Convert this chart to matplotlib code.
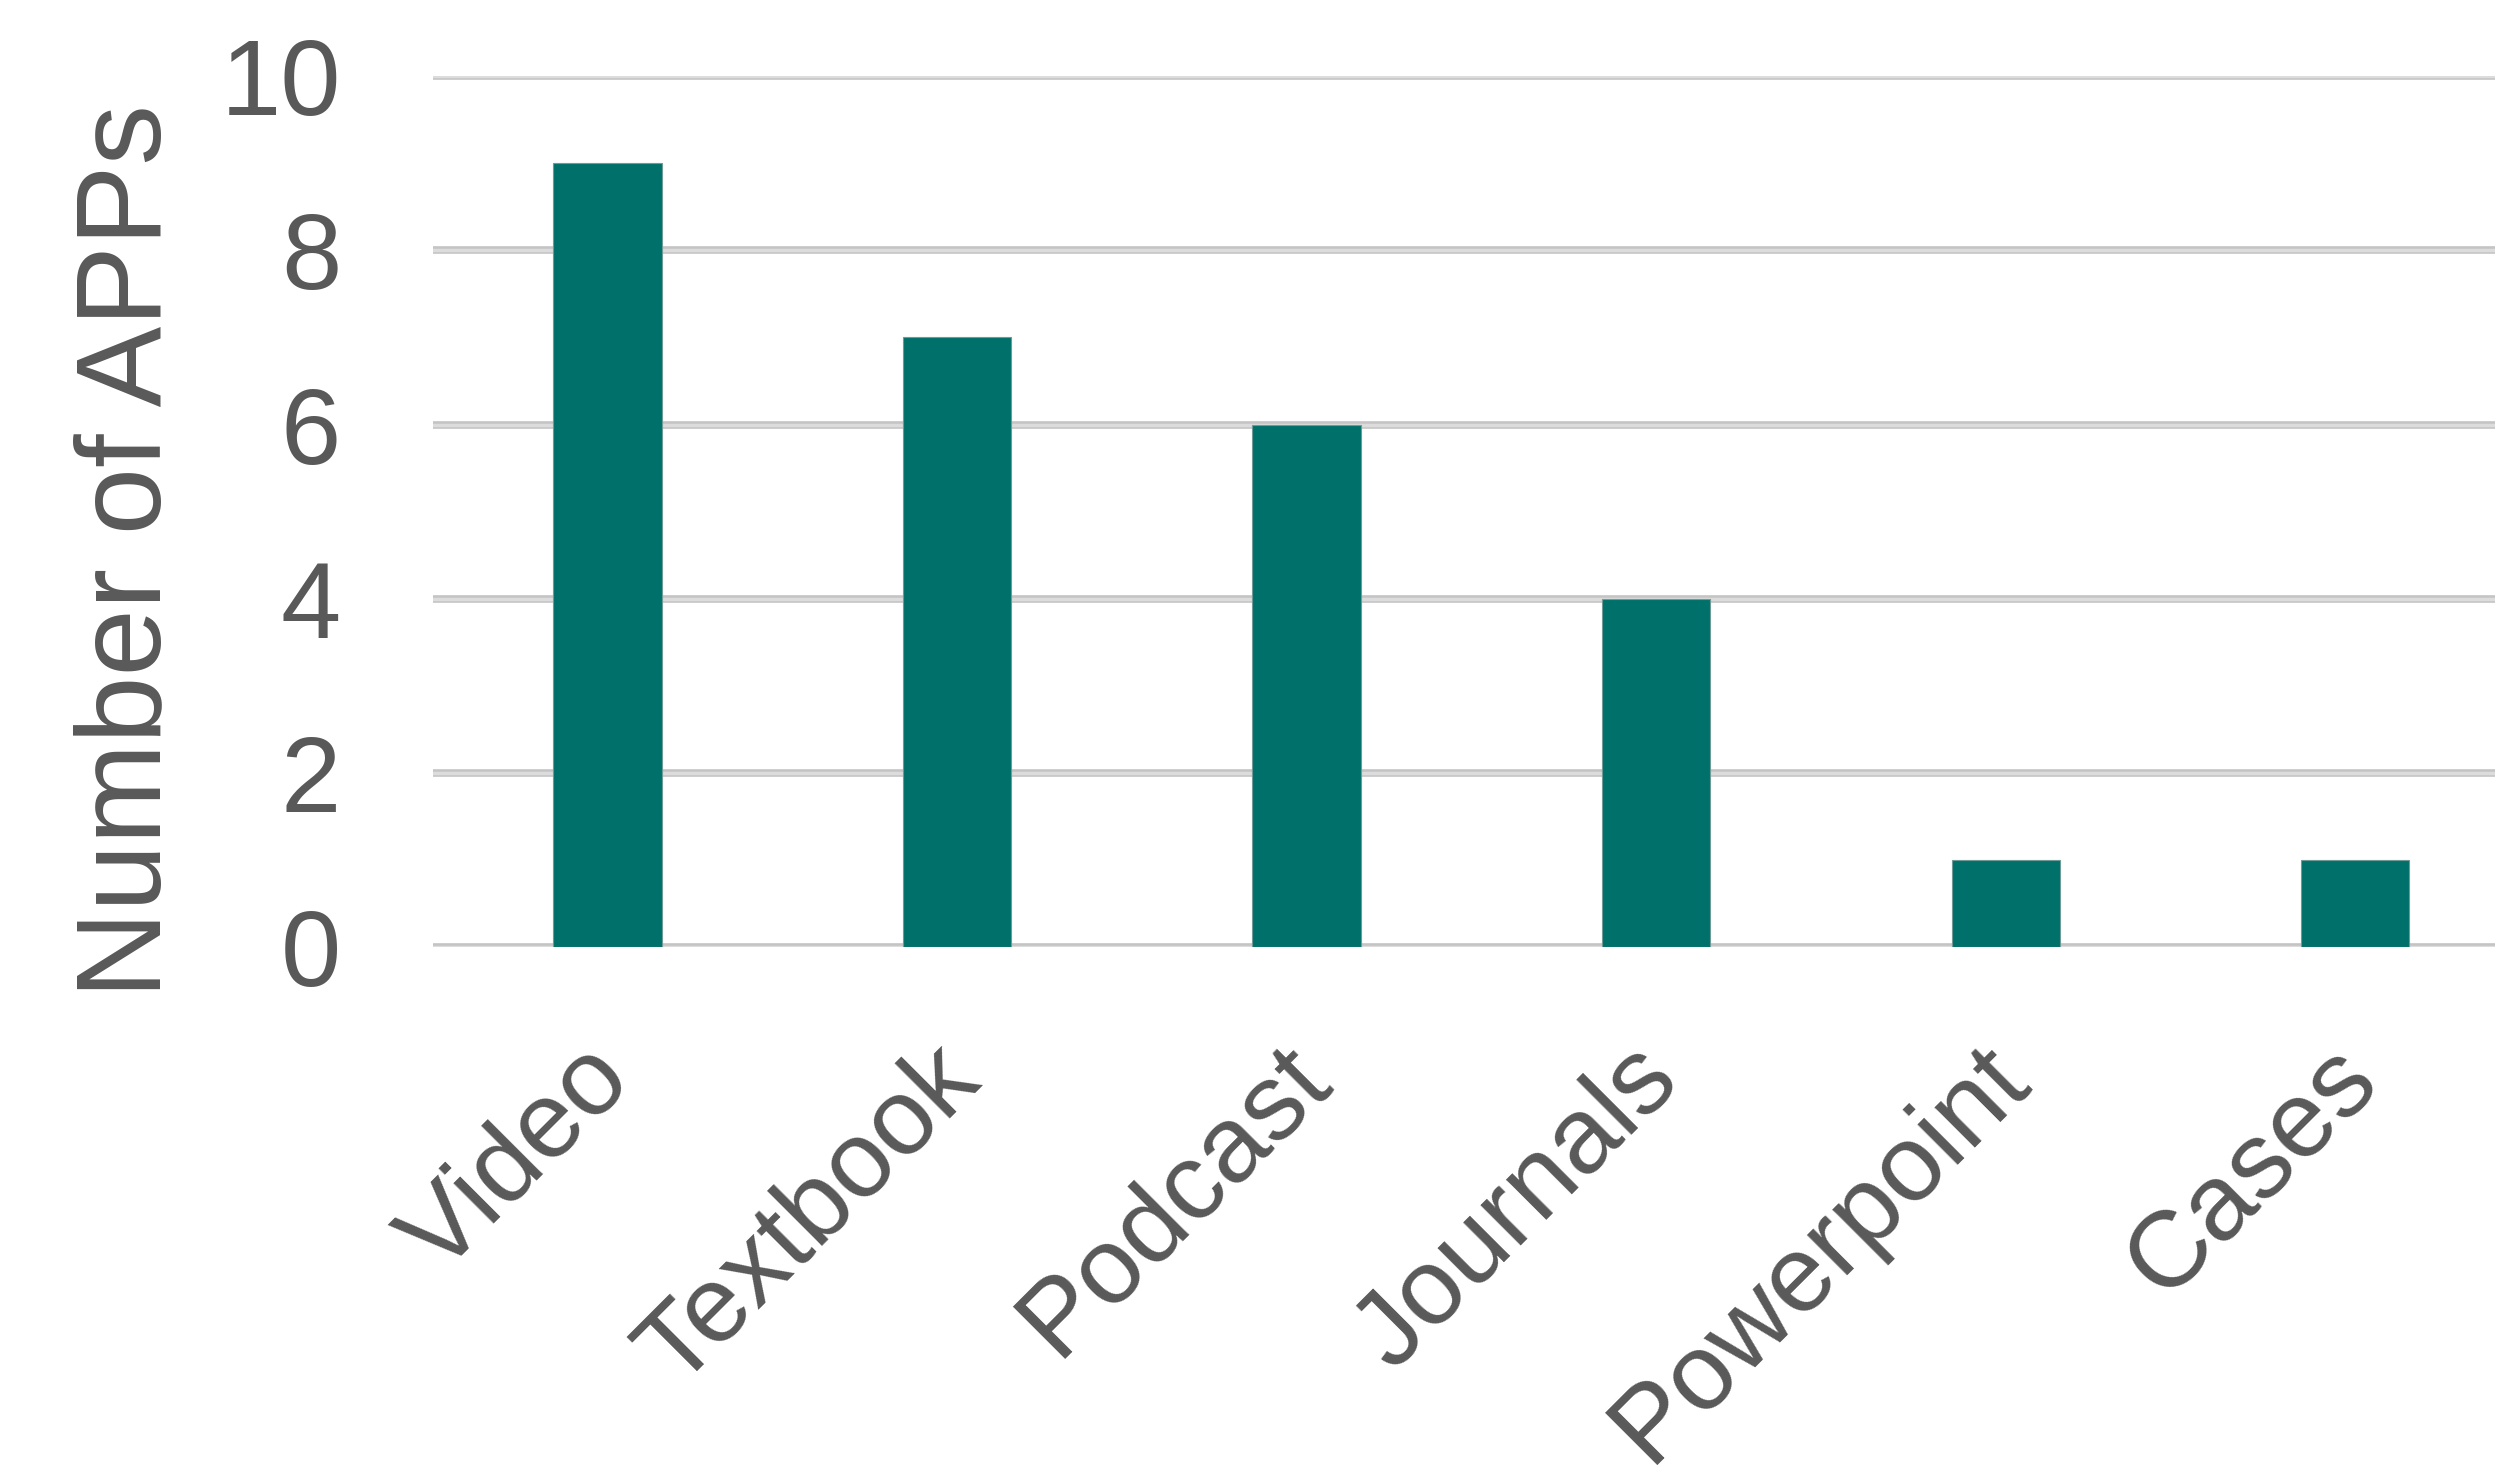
import matplotlib
matplotlib.use("Agg")
import matplotlib.pyplot as plt
import matplotlib.transforms as mtransforms

categories = ["Video", "Textbook", "Podcast", "Journals", "Powerpoint", "Cases"]
counts = [9, 7, 6, 4, 1, 1]
yticks = [0, 2, 4, 6, 8, 10]

BAR = "#00706a"
TEXT = "#595959"
GRID = "#c4c4c4"

plt.rcParams["font.family"] = ["Liberation Sans", "DejaVu Sans"]

fig = plt.figure(figsize=(24.95, 14.68), dpi=100)
ax = fig.add_axes([0.1735, 0.355, 0.8265, 0.593])

x = range(len(categories))
ax.bar(x, counts, width=0.31, color=BAR, edgecolor="#6f9a95", lw=0.8, zorder=3)

ax.set_xlim(-0.5, 5.4)
ax.set_ylim(0, 10)
ax.set_yticks(yticks)
ax.set_yticklabels([str(v) for v in yticks])
# gridlines: light core with a darker rim
for v in yticks:
    ax.axhline(v, color=GRID, lw=5.5, zorder=1, solid_capstyle="round")
    ax.axhline(v, color="#dcdcdc", lw=2.5, zorder=1)

for s in ax.spines.values():
    s.set_visible(False)

ax.tick_params(axis="y", length=0, pad=66, labelsize=78, labelcolor=TEXT)
ax.tick_params(axis="x", length=0, pad=58, labelsize=78, labelcolor=TEXT)
ax.set_xticks(list(x))
ax.set_xticklabels(categories, rotation=45, ha="right", va="top",
                   rotation_mode="anchor")
shift = mtransforms.ScaledTranslation(-0.29, 0, fig.dpi_scale_trans)
for lab in ax.get_xticklabels():
    lab.set_transform(lab.get_transform() + shift)

ax.set_ylabel("Number of APPs", fontsize=87, color=TEXT)
ax.yaxis.set_label_coords(-0.12, 0.455)

fig.savefig("out.png", dpi=100)
